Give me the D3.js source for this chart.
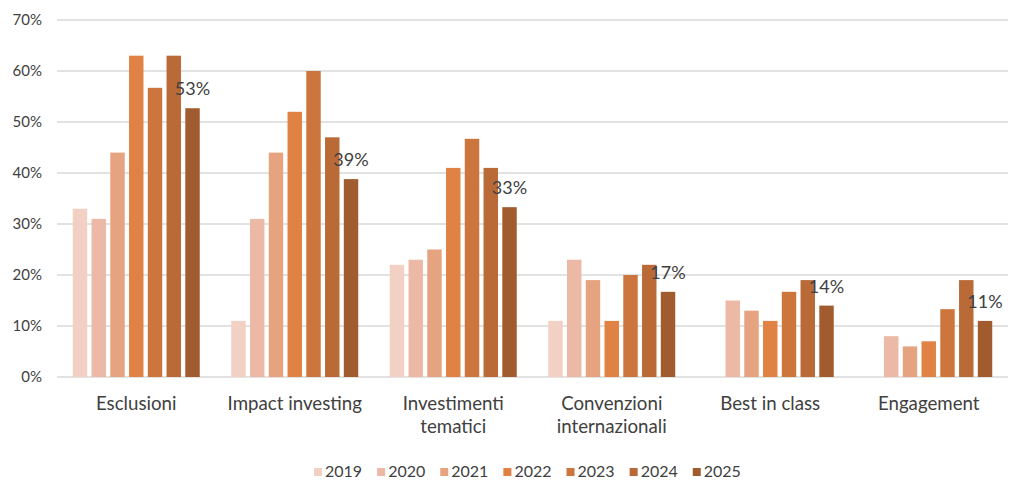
<!DOCTYPE html>
<html>
<head>
<meta charset="utf-8">
<title>Strategie</title>
<script src="https://d3js.org/d3.v7.min.js"></script>
<style>
  body { margin: 0; background: #fff; }
  text { font-family: Lato, sans-serif; fill: #404040; }
</style>
</head>
<body>
<div id="chart"></div>
<script>
// data
var categories = ["Esclusioni", "Impact investing", "Investimenti tematici", "Convenzioni internazionali", "Best in class", "Engagement"];
var catLines = [["Esclusioni"], ["Impact investing"], ["Investimenti", "tematici"], ["Convenzioni", "internazionali"], ["Best in class"], ["Engagement"]];
var years = ["2019", "2020", "2021", "2022", "2023", "2024", "2025"];
var v2019 = [33, 11, 22, 11, null, null];
var v2020 = [31, 31, 23, 23, 15, 8];
var v2021 = [44, 44, 25, 19, 13, 6];
var v2022 = [63, 52, 41, 11, 11, 7];
var v2023 = [56.7, 60, 46.7, 20, 16.7, 13.3];
var v2024 = [63, 47, 41, 22, 19, 19];
var v2025 = [52.7, 38.8, 33.3, 16.7, 14, 11];
var yTicks = [0, 10, 20, 30, 40, 50, 60, 70];
var colors = ["#f2d0c4", "#ebb9a5", "#e5a380", "#e08244", "#cc763d", "#ba6a37", "#a05b2e"];

var series = [v2019, v2020, v2021, v2022, v2023, v2024, v2025];

var svg_dx = 1024, svg_dy = 490;
var svg = d3.select("#chart").append("svg")
    .attr("width", svg_dx).attr("height", svg_dy);

var x0 = d3.scaleBand().domain(categories).range([57, 1008]);
var x1 = d3.scaleBand().domain(years).range([0, x0.bandwidth()])
    .paddingInner(0.23).paddingOuter(0.84);
var y = d3.scaleLinear().domain([0, 70]).range([377, 20]);
var color = d3.scaleOrdinal().domain(years).range(colors);

// gridlines
svg.append("g").selectAll("line").data(yTicks).enter().append("line")
    .attr("x1", 57).attr("x2", 1008)
    .attr("y1", d => y(d)).attr("y2", d => y(d))
    .attr("stroke", "#d9d9d9").attr("stroke-width", 1.3);

// y axis labels
var axis_y = d3.axisLeft(y).tickValues(yTicks).tickFormat(d => d + "%").tickSize(0).tickPadding(15);
var gy = svg.append("g").attr("transform", "translate(57,0)").call(axis_y);
gy.select(".domain").remove();
gy.selectAll("text").style("font-family", "Lato, sans-serif").style("font-size", "15px").attr("fill", "#404040");

// bars
var cells = [];
categories.forEach(function (c, i) {
    years.forEach(function (yr, j) {
        if (series[j][i] != null) cells.push({cat: c, year: yr, value: series[j][i]});
    });
});
svg.append("g").selectAll("rect").data(cells).enter().append("rect")
    .attr("x", d => x0(d.cat) + x1(d.year))
    .attr("y", d => y(d.value))
    .attr("width", x1.bandwidth())
    .attr("height", d => y(0) - y(d.value))
    .attr("fill", d => color(d.year));

// data labels on last series
svg.append("g").selectAll("text").data(cells.filter(d => d.year === "2025")).enter().append("text")
    .attr("x", d => x0(d.cat) + x1(d.year) + x1.bandwidth() / 2)
    .attr("y", d => y(d.value) - 13)
    .attr("text-anchor", "middle")
    .style("font-size", "18px")
    .text(d => Math.round(d.value) + "%");

// category labels
var gx = svg.append("g");
categories.forEach(function (c, i) {
    var t = gx.append("text")
        .attr("x", x0(c) + x0.bandwidth() / 2)
        .attr("y", 410)
        .attr("text-anchor", "middle")
        .style("font-size", "18.7px");
    catLines[i].forEach(function (line, k) {
        t.append("tspan").attr("x", x0(c) + x0.bandwidth() / 2).attr("dy", k === 0 ? 0 : 23).text(line);
    });
});

// legend
var legend = svg.append("g");
var lx = 314;
years.forEach(function (yr) {
    var g = legend.append("g").attr("transform", "translate(" + lx + ",467)");
    g.append("rect").attr("width", 8).attr("height", 8).attr("y", 1).attr("fill", color(yr));
    var t = g.append("text").attr("x", 11).attr("y", 10).style("font-size", "16px").text(yr);
    lx += 11 + t.node().getComputedTextLength() + 15;
});
</script>
</body>
</html>
